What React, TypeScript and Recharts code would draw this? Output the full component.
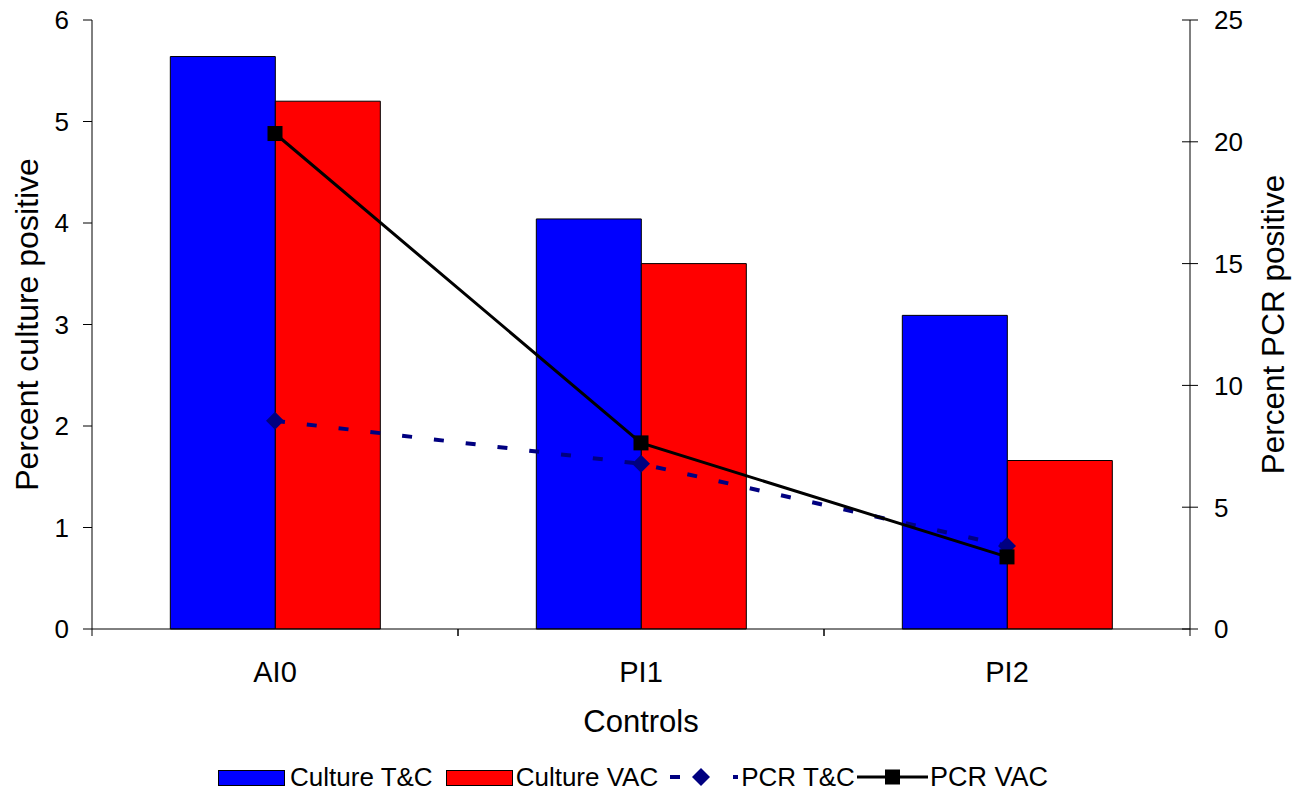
import { ComposedChart, Bar, Line, XAxis, YAxis, Legend } from 'recharts';

const categories = ['AI0', 'PI1', 'PI2'];
const cultureTC = [5.64, 4.04, 3.09];
const cultureVAC = [5.2, 3.6, 1.66];
const pcrTC = [8.55, 6.78, 3.41];
const pcrVAC = [20.34, 7.64, 2.96];
const leftTicks = [0, 1, 2, 3, 4, 5, 6];
const rightTicks = [0, 5, 10, 15, 20, 25];

const data = categories.map((name, i) => ({
  name,
  cultureTC: cultureTC[i],
  cultureVAC: cultureVAC[i],
  pcrTC: pcrTC[i],
  pcrVAC: pcrVAC[i],
}));

const FONT = '"Liberation Sans", Arial, sans-serif';
const W = 1298;
const H = 792;
const LEFT_W = 92;
const RIGHT_W = 108;
const BAND = (W - LEFT_W - RIGHT_W) / categories.length;
const NAVY = '#000080';

const XTick = (props: any) => {
  const { x, y, payload } = props;
  const half = BAND / 2;
  return (
    <g>
      <line x1={x - half} x2={x - half} y1={y} y2={y + 7} stroke="#000" />
      <line x1={x + half} x2={x + half} y1={y} y2={y + 7} stroke="#000" />
      <text x={x} y={y + 53} textAnchor="middle" fontSize={29} fontFamily={FONT} fill="#000">
        {payload.value}
      </text>
    </g>
  );
};

const RightTick = (props: any) => {
  const { x, y, payload } = props;
  return (
    <g>
      <line x1={x - 8} x2={x + 8} y1={y} y2={y} stroke="#000" />
      <text x={x + 24} y={y} dy="0.36em" textAnchor="start" fontSize={26} fontFamily={FONT} fill="#000">
        {payload.value}
      </text>
    </g>
  );
};

const SquareDot = (props: any) => {
  const { cx, cy, index } = props;
  if (cx == null || cy == null) return <g key={index} />;
  return <rect key={index} x={cx - 7.5} y={cy - 7.5} width={15} height={15} fill="#000" />;
};

const DiamondDot = (props: any) => {
  const { cx, cy, index } = props;
  if (cx == null || cy == null) return <g key={index} />;
  return (
    <polygon
      key={index}
      points={`${cx},${cy - 9} ${cx + 9},${cy} ${cx},${cy + 9} ${cx - 9},${cy}`}
      fill={NAVY}
    />
  );
};

const legendText: React.CSSProperties = {
  fontFamily: FONT,
  fontSize: 26,
  color: '#000',
  whiteSpace: 'nowrap',
};

const LegendContent = () => (
  <div
    style={{
      height: 30,
      display: 'flex',
      alignItems: 'center',
      justifyContent: 'center',
      paddingRight: 32,
    }}
  >
    <svg width={72} height={30}>
      <rect x={0.5} y={8.5} width={66} height={15} fill="#0000FF" stroke="#000" />
    </svg>
    <span style={{ ...legendText, marginRight: 13 }}>Culture T&amp;C</span>
    <svg width={70} height={30}>
      <rect x={0.5} y={8.5} width={66} height={15} fill="#FF0000" stroke="#000" />
    </svg>
    <span style={{ ...legendText, marginRight: 9 }}>Culture VAC</span>
    <svg width={74} height={30}>
      <line x1={3} x2={13} y1={15} y2={15} stroke={NAVY} strokeWidth={4} />
      <polygon points="34,6 43,15 34,24 25,15" fill={NAVY} />
      <line x1={66} x2={71} y1={15} y2={15} stroke={NAVY} strokeWidth={4} />
    </svg>
    <span style={{ ...legendText, marginRight: 0 }}>PCR T&amp;C</span>
    <svg width={75} height={30}>
      <line x1={2} x2={73} y1={15} y2={15} stroke="#000" strokeWidth={3} />
      <rect x={30} y={7.5} width={15} height={15} fill="#000" />
    </svg>
    <span style={{ ...legendText, fontSize: 27 }}>PCR VAC</span>
  </div>
);

export default function App() {
  return (
    <div style={{ position: 'absolute', left: 0, top: 0, background: '#fff' }}>
      <ComposedChart
        width={W}
        height={H}
        data={data}
        margin={{ top: 20, right: 0, bottom: 0, left: 0 }}
        barCategoryGap="21.4%"
        barGap={0}
      >
        <XAxis
          dataKey="name"
          height={133}
          tickLine={false}
          tickSize={0}
          tickMargin={0}
          axisLine={{ stroke: '#000' }}
          tick={<XTick />}
          interval={0}
          label={(props: any) => {
            const vb = props.viewBox || {};
            return (
              <text
                x={vb.x + vb.width / 2}
                y={vb.y + vb.height - 30}
                textAnchor="middle"
                fontSize={31}
                fontFamily={FONT}
                fill="#000"
              >
                Controls
              </text>
            );
          }}
        />
        <YAxis
          yAxisId="left"
          width={LEFT_W}
          domain={[0, 6]}
          ticks={leftTicks}
          interval={0}
          tickSize={9}
          tickMargin={14}
          axisLine={{ stroke: '#000' }}
          tickLine={{ stroke: '#000' }}
          tick={{ fontSize: 26, fontFamily: FONT, fill: '#000' }}
          label={(props: any) => {
            const vb = props.viewBox || {};
            const cy = vb.y + vb.height / 2;
            return (
              <text
                transform={`translate(${vb.x + 27}, ${cy}) rotate(-90)`}
                textAnchor="middle"
                dominantBaseline="central"
                fontSize={32}
                fontFamily={FONT}
                fill="#000"
              >
                Percent culture positive
              </text>
            );
          }}
        />
        <YAxis
          yAxisId="right"
          orientation="right"
          width={RIGHT_W}
          domain={[0, 25]}
          ticks={rightTicks}
          interval={0}
          tickLine={false}
          tickSize={0}
          tickMargin={0}
          axisLine={{ stroke: '#000' }}
          tick={<RightTick />}
          label={(props: any) => {
            const vb = props.viewBox || {};
            const cy = vb.y + vb.height / 2;
            return (
              <text
                transform={`translate(${vb.x + 83}, ${cy}) rotate(-90)`}
                textAnchor="middle"
                dominantBaseline="central"
                fontSize={31.5}
                fontFamily={FONT}
                fill="#000"
              >
                Percent PCR positive
              </text>
            );
          }}
        />
        <Legend verticalAlign="bottom" align="center" content={() => <LegendContent />} />
        <Bar
          yAxisId="left"
          dataKey="cultureTC"
          name="Culture T&C"
          fill="#0000FF"
          stroke="#000"
          strokeWidth={1}
          isAnimationActive={false}
        />
        <Bar
          yAxisId="left"
          dataKey="cultureVAC"
          name="Culture VAC"
          fill="#FF0000"
          stroke="#000"
          strokeWidth={1}
          isAnimationActive={false}
        />
        <Line
          yAxisId="right"
          dataKey="pcrTC"
          name="PCR T&C"
          stroke={NAVY}
          strokeWidth={4}
          strokeDasharray="10 22"
          dot={DiamondDot}
          activeDot={false}
          isAnimationActive={false}
        />
        <Line
          yAxisId="right"
          dataKey="pcrVAC"
          name="PCR VAC"
          stroke="#000"
          strokeWidth={3}
          dot={SquareDot}
          activeDot={false}
          isAnimationActive={false}
        />
      </ComposedChart>
    </div>
  );
}
